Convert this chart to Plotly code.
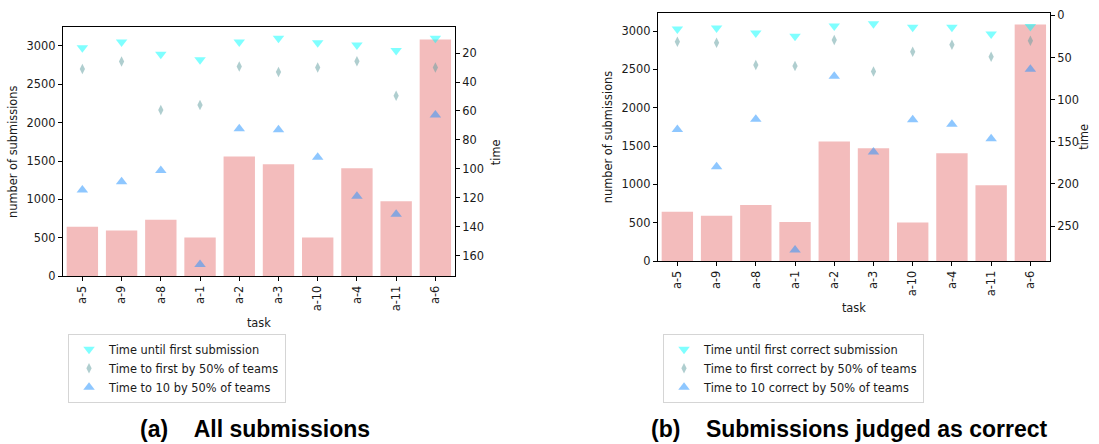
import plotly.graph_objects as go

tasks = ["a-5", "a-9", "a-8", "a-1", "a-2", "a-3", "a-10", "a-4", "a-11", "a-6"]

# panel (a): all submissions
subs_all = [644, 594, 733, 504, 1560, 1458, 504, 1407, 975, 3085]
first_all = [16.4, 12.4, 20.9, 24.7, 12.4, 9.7, 12.9, 14.4, 18.2, 9.7]
half_first_all = [31.0, 25.9, 59.3, 55.9, 29.2, 33.1, 29.9, 25.6, 49.4, 29.9]
half_ten_all = [114.5, 108.8, 101.0, 166.0, 72.3, 73.0, 92.0, 118.8, 131.3, 62.7]

# panel (b): submissions judged as correct
subs_corr = [644, 593, 733, 510, 1560, 1471, 504, 1407, 988, 3085]
first_corr = [16.2, 15.0, 20.8, 24.7, 12.7, 10.0, 14.2, 14.2, 22.0, 13.1]
half_first_corr = [31.2, 32.4, 59.0, 60.2, 29.3, 66.7, 43.2, 34.7, 49.0, 30.1]
half_ten_corr = [135.4, 179.7, 123.4, 278.5, 72.1, 162.0, 123.8, 129.2, 146.5, 64.0]

names_a = ["Time until first submission", "Time to first by 50% of teams", "Time to 10 by 50% of teams"]
names_b = ["Time until first correct submission", "Time to first correct by 50% of teams",
           "Time to 10 correct by 50% of teams"]

BAR = "rgb(243,188,188)"
C1 = "rgba(0,255,255,0.5)"
C2 = "rgba(95,158,160,0.5)"
C3 = "rgba(30,144,255,0.5)"
FONT = "DejaVu Sans"
TXT = "#1a1a1a"

fig = go.Figure()

def add_panel(xa, ya, ya2, subs, t1, t2, t3, names, legend):
    fig.add_trace(go.Bar(x=tasks, y=subs, marker=dict(color=BAR, line=dict(width=0)),
                         width=0.8, xaxis=xa, yaxis=ya, showlegend=False))
    specs = [(t1, "triangle-down", C1, 10), (t2, "diamond-tall", C2, 7.5), (t3, "triangle-up", C3, 10)]
    for (vals, sym, col, sz), nm in zip(specs, names):
        fig.add_trace(go.Scatter(x=tasks, y=vals, mode="markers", name=nm,
                                 marker=dict(symbol=sym, color=col, size=sz, line=dict(width=0)),
                                 xaxis=xa, yaxis=ya2, legend=legend))

add_panel("x", "y", "y2", subs_all, first_all, half_first_all, half_ten_all, names_a, "legend")
add_panel("x2", "y3", "y4", subs_corr, first_corr, half_first_corr, half_ten_corr, names_b, "legend2")

axfont = dict(family=FONT, size=11.4, color=TXT)
common = dict(showline=True, linecolor="black", linewidth=1, ticks="outside", ticklen=4,
              tickwidth=1, tickcolor="black", showgrid=False, zeroline=False, tickfont=axfont)

def xax(domain, anchor):
    return dict(domain=domain, anchor=anchor, type="category", range=[-0.5, 9.5],
                tickangle=-90, mirror=True,
                title=dict(text="task", font=axfont, standoff=8), **common)

def label(text, x, y):
    return dict(text=text, x=x / 1099, y=(444 - y) / 444, xref="paper", yref="paper",
                xanchor="center", yanchor="middle", showarrow=False, textangle=-90, font=axfont)

fig.update_layout(
    width=1099, height=444, margin=dict(l=0, r=0, t=0, b=0),
    paper_bgcolor="white", plot_bgcolor="white", bargap=0.2,
    xaxis=xax([0.0571, 0.4140], "y"),
    yaxis=dict(domain=[0.3716, 0.9459], anchor="x", range=[0, 3241], dtick=500, mirror=True,
               title=dict(text="number of submissions", font=axfont, standoff=6), **common),
    yaxis2=dict(overlaying="y", side="right", anchor="x", range=[174, 2.3],
                tickvals=[20, 40, 60, 80, 100, 120, 140, 160], **common),
    xaxis2=xax([0.5985, 0.9554], "y3"),
    yaxis3=dict(domain=[0.4061, 0.9797], anchor="x2", range=[0, 3238], dtick=500, mirror=True,
                title=dict(text="number of submissions", font=axfont, standoff=6), **common),
    yaxis4=dict(overlaying="y3", side="right", anchor="x2", range=[291.7, -3.1],
                tickvals=[0, 50, 100, 150, 200, 250], **common),
    legend=dict(x=0.0619, y=0.2387, xanchor="left", yanchor="top", bgcolor="white",
                bordercolor="#d5d5d5", borderwidth=1, font=axfont),
    legend2=dict(x=0.6033, y=0.2387, xanchor="left", yanchor="top", bgcolor="white",
                 bordercolor="#d5d5d5", borderwidth=1, font=axfont),
    annotations=[
        label("time", 496, 152),
        label("time", 1084, 136),
        dict(text="<b>(a)\u00a0\u00a0\u00a0\u00a0All submissions</b>", x=255 / 1099, y=(444 - 436) / 444,
             xref="paper", yref="paper", xanchor="center", yanchor="middle", showarrow=False,
             font=dict(family="Liberation Sans, Arial", size=23, color="black")),
        dict(text="<b>(b)\u00a0\u00a0\u00a0\u00a0Submissions judged as correct</b>", x=849.5 / 1099,
             y=(444 - 436) / 444, xref="paper", yref="paper", xanchor="center", yanchor="middle",
             showarrow=False, font=dict(family="Liberation Sans, Arial", size=23, color="black")),
    ],
)

fig.write_html("out.html")
